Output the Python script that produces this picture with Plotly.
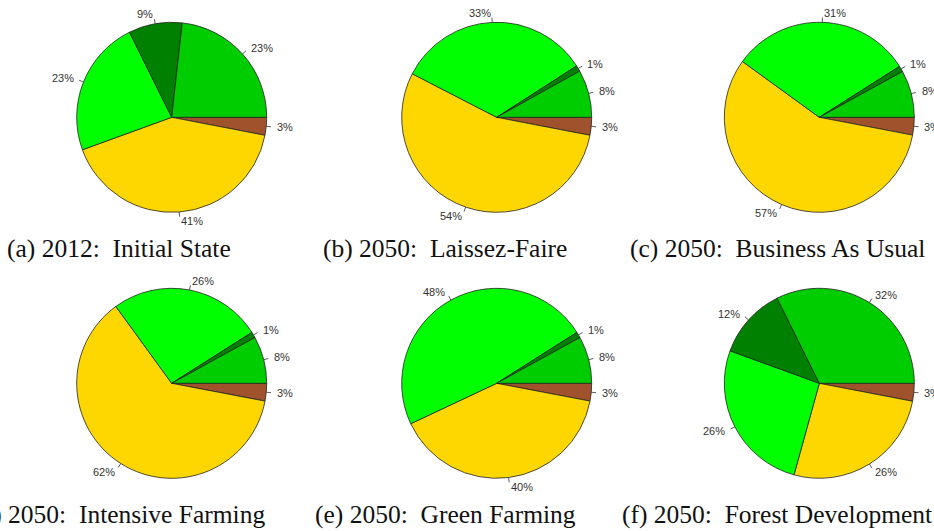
import numpy as np
import plotly.graph_objects as go

W, H = 934, 531

# ---- data ----
slice_names = ["Class 1", "Class 2", "Class 3", "Class 4", "Class 5"]
slice_colors = ["#00CD00", "#008000", "#00FF00", "#FFD700", "#A0522D"]

values_a = [23, 9, 23, 41, 3]
values_b = [8, 1, 33, 54, 3]
values_c = [8, 1, 31, 57, 3]
values_d = [8, 1, 26, 62, 3]
values_e = [8, 1, 48, 40, 3]
values_f = [32, 12, 26, 26, 3]

captions = [
    "(a) 2012:\u00a0 Initial State",
    "(b) 2050:\u00a0 Laissez-Faire",
    "(c) 2050:\u00a0 Business As Usual",
    "(d) 2050:\u00a0 Intensive Farming",
    "(e) 2050:\u00a0 Green Farming",
    "(f) 2050:\u00a0 Forest Development",
]

all_values = [values_a, values_b, values_c, values_d, values_e, values_f]

# ---- layout (pixels) ----
col_cx = [171.7, 496.7, 819.3]
row_cy = [117.3, 383.3]
R = 95.0
caption_cx = [119, 445, 777]
caption_cy = [248, 514]

fig = go.Figure()
annotations = []
shapes = []

for k, vals in enumerate(all_values):
    r, c = divmod(k, 3)
    cx, cy = col_cx[c], row_cy[r]
    # R-style pie: slices run counterclockwise from 3 o'clock.
    # Equivalent in plotly: reversed order, clockwise from 3 o'clock.
    fig.add_trace(go.Pie(
        labels=slice_names[::-1],
        values=vals[::-1],
        sort=False,
        direction="clockwise",
        rotation=90,
        marker=dict(colors=slice_colors[::-1], line=dict(color="#222222", width=0.8)),
        textinfo="none",
        hoverinfo="label+percent",
        showlegend=False,
        domain=dict(x=[(cx - R) / W, (cx + R) / W],
                    y=[1 - (cy + R) / H, 1 - (cy - R) / H]),
    ))
    v = np.array(vals, dtype=float)
    frac = np.concatenate([[0], np.cumsum(v) / v.sum()])
    for i in range(len(v)):
        t = 2 * np.pi * (frac[i] + frac[i + 1]) / 2
        ct, st = np.cos(t), np.sin(t)
        shapes.append(dict(
            type="line", xref="paper", yref="paper",
            x0=(cx + R * ct) / W, y0=1 - (cy - R * st) / H,
            x1=(cx + 1.05 * R * ct) / W, y1=1 - (cy - 1.05 * R * st) / H,
            line=dict(color="#333333", width=0.8),
        ))
        annotations.append(dict(
            xref="paper", yref="paper",
            x=(cx + 1.1 * R * ct) / W, y=1 - (cy - 1.1 * R * st) / H,
            text=f"{int(vals[i])}%",
            showarrow=False,
            xanchor="right" if ct < 0 else "left",
            yanchor="middle",
            borderpad=0,
            font=dict(family="Liberation Sans, Arial, sans-serif", size=11, color="#333333"),
        ))
    annotations.append(dict(
        xref="paper", yref="paper",
        x=caption_cx[c] / W, y=1 - caption_cy[r] / H,
        text=captions[k],
        showarrow=False,
        xanchor="center", yanchor="middle",
        font=dict(family="Liberation Serif, Times New Roman, serif", size=25.5, color="#111111"),
    ))

fig.update_layout(
    width=W, height=H,
    margin=dict(l=0, r=0, t=0, b=0),
    paper_bgcolor="white",
    plot_bgcolor="white",
    annotations=annotations,
    shapes=shapes,
)

fig.write_html(
    "out.html",
    config={"displayModeBar": False},
    post_script="document.body.style.margin='0';document.body.style.overflow='hidden';",
)
